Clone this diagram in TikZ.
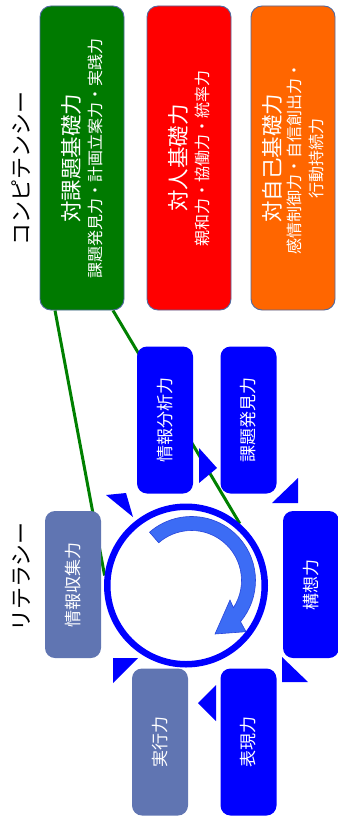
\documentclass[tikz,border=0pt]{standalone}
\usepackage{fontspec}
\setmainfont{Noto Sans CJK JP}
\usetikzlibrary{calc,backgrounds}
\definecolor{kgreen}{RGB}{0,122,0}
\definecolor{kred}{RGB}{255,0,0}
\definecolor{korange}{RGB}{255,102,0}
\definecolor{kblue}{RGB}{0,0,255}
\definecolor{kslate}{RGB}{96,117,178}
\definecolor{kedge}{RGB}{80,105,160}
\definecolor{karrow}{RGB}{60,108,245}
\definecolor{karrowline}{RGB}{40,70,220}
\definecolor{klink}{RGB}{0,128,0}
\begin{document}
\begin{tikzpicture}[x=1pt,y=1pt,
  topbox/.style={rectangle, rounded corners=11pt, draw=kedge, line width=0.9pt, rotate=90,
    minimum width=304pt, minimum height=84pt, inner sep=0pt, text=white, align=center,
    font=\fontsize{16}{21.5}\selectfont},
  litbox/.style={rectangle, rounded corners=10pt, rotate=90, minimum width=147pt,
    minimum height=56pt, inner sep=0pt, text=white, font=\fontsize{17}{20}\selectfont},
  heading/.style={rotate=90, font=\fontsize{22}{26}\selectfont, inner sep=0pt},
  flowtip/.style={fill=kblue},
  link/.style={draw=klink, line width=3pt},
  turnarrow/.style={fill=karrow, draw=karrowline, line width=0.6pt},
]
\useasboundingbox (0,0) rectangle (337,-821);

% headings
\node[heading] (comp) at (21.5,-168.5) {コンピテンシー};
\node[heading] (lit) at (22,-577) {リテラシー};

% competency boxes
\node[topbox, fill=kgreen] (kadai) at (82,-158)
  {{\fontsize{21.5}{24}\selectfont 対課題基礎力}\\[1pt]課題発見力・計画立案力・実践力};
\node[topbox, fill=kred] (jin) at (189,-158)
  {{\fontsize{21.5}{24}\selectfont 対人基礎力}\\[1pt]親和力・協働力・統率力};
\node[topbox, fill=korange] (jiko) at (293,-158)
  {{\fontsize{21.5}{24}\selectfont 対自己基礎力}\\[-1.5pt]感情制御力・自信創出力・\\行動持続力};

% literacy boxes
\node[litbox, fill=kslate] (shushu) at (73,-584.5) {情報収集力};
\node[litbox, fill=kblue] (bunseki) at (165,-420) {情報分析力};
\node[litbox, fill=kblue] (hakken) at (248.5,-420) {課題発見力};
\node[litbox, fill=kblue] (koso) at (311,-584.5) {構想力};
\node[litbox, fill=kblue] (hyogen) at (248.5,-742) {表現力};
\node[litbox, fill=kslate] (jikko) at (160,-742) {実行力};

% ring
\node[circle, draw=kblue, line width=6.5pt, minimum size=157.5pt, inner sep=0pt] (ring) at (186,-585.5) {};

% links
\begin{scope}[on background layer]
\draw[link] ($(kadai.west)+(-27,0)$) -- (ring.173);
\draw[link] ($(kadai.west)+(31,0)$) -- (ring.49);
\end{scope}

% turning arrow
\coordinate (ac) at (191.5,-580.5);
\path[turnarrow] ($(ac)+(131:64)$) arc[start angle=131, end angle=-40, radius=64]
  -- (246,-631.7) -- (215,-634) -- (230,-600)
  -- ($(ac)+(-33:50)$) arc[start angle=-33, end angle=131, radius=50] -- cycle;

% flow tips
\fill[flowtip] (106,-495) -- (126,-493) -- (133,-517) -- cycle;
\fill[flowtip] (199,-448) -- (217,-468) -- (199,-483) -- cycle;
\fill[flowtip] (298,-478) -- (298,-503) -- (272,-503) -- cycle;
\fill[flowtip] (282,-657) -- (282,-682) -- (308,-682) -- cycle;
\fill[flowtip] (198,-703) -- (216,-685) -- (216,-721) -- cycle;
\fill[flowtip] (113,-658) -- (138,-658) -- (113,-683) -- cycle;
\end{tikzpicture}
\end{document}
